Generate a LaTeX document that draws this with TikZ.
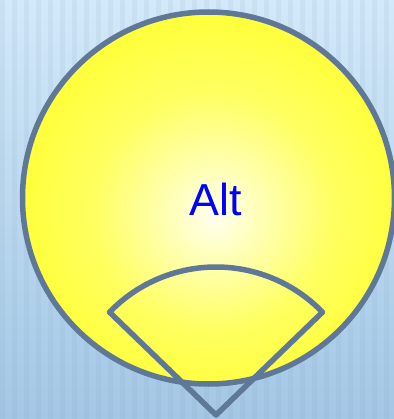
\documentclass[tikz,border=0pt]{standalone}
\usepackage{fontspec}
\setmainfont{Liberation Sans}
\usetikzlibrary{positioning}
\definecolor{skytop}{RGB}{210,233,249}
\definecolor{skybot}{RGB}{163,199,229}
\definecolor{rimgray}{RGB}{96,120,152}
\definecolor{altblue}{RGB}{0,0,255}
\pgfdeclareradialshading{sunglow}{\pgfpoint{0.9bp}{-2.5bp}}{%
  color(0bp)=(yellow!6!white); color(6bp)=(yellow!28!white);
  color(16bp)=(yellow!62!white); color(25bp)=(yellow!76!white);
  color(50bp)=(yellow!76!white)}

\begin{document}
\begin{tikzpicture}[x=1bp, y=1bp, line join=round,
  rim/.style={draw=rimgray, line width=5.5bp}]
  % Background
  \useasboundingbox (0,0) rectangle (394,419);
  \clip (0,0) rectangle (394,419);
  \shade[top color=skytop, bottom color=skybot] (0,0) rectangle (394,419);
  \foreach \sx in {0,12,...,396}
    \fill[skybot!80!black, opacity=0.1] (\sx,0) rectangle ++(5,419);

  % Sun
  \node[circle, rim, shade, shading=sunglow, minimum size=372bp,
        inner sep=0pt] (sun) at (208.5,221) {};
  \node[font=\fontsize{45}{54}\selectfont, text=altblue] (lbl)
    at (215.5,220) {Alt};

  % Wedge
  \coordinate (tip) at (216,4);
  \draw[rim] (tip) -- ++(136:148) arc[start angle=136, end angle=44,
    radius=148] -- cycle;
\end{tikzpicture}
\end{document}
